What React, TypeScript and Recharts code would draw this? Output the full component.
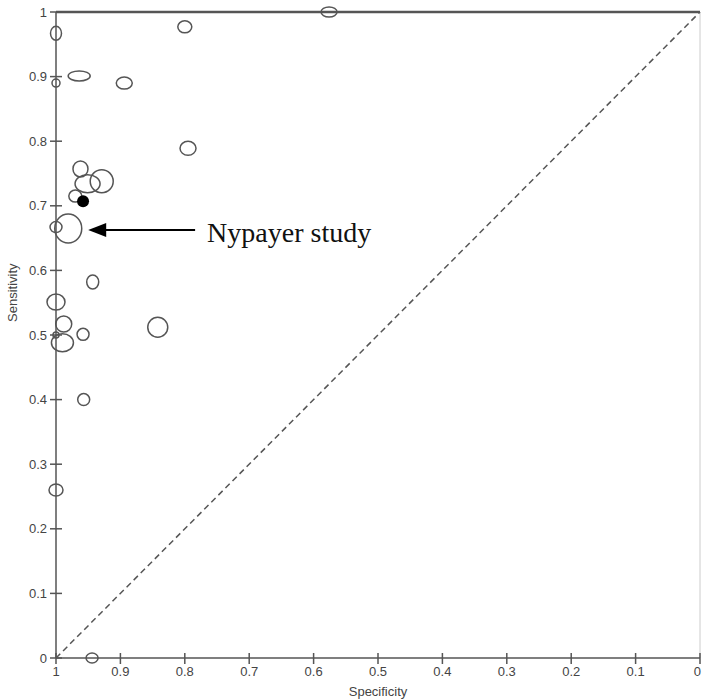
import { ScatterChart, Scatter, XAxis, YAxis, ReferenceLine } from 'recharts';

// 各研究的特异度 / 灵敏度 (椭圆中心)
const specificity = [1, 1, 0.964, 0.894, 0.8, 0.576, 0.795, 0.962, 0.951, 0.929, 0.97, 0.981, 1, 0.943, 1, 0.988, 1, 0.99, 0.958, 0.842, 0.957, 1, 0.944];
const sensitivity = [0.967, 0.89, 0.901, 0.89, 0.977, 1, 0.789, 0.757, 0.734, 0.738, 0.715, 0.665, 0.667, 0.582, 0.551, 0.517, 0.5, 0.488, 0.501, 0.512, 0.4, 0.26, 0];
// 椭圆宽 / 高权重
const specWeight = [5.5, 4, 11, 8, 7, 8, 8, 7.5, 12.5, 11.5, 6.5, 13.5, 6, 6, 9, 8, 3, 11, 6, 10, 6, 7, 6];
const sensWeight = [7, 4, 5, 6, 6, 5, 7, 8, 9, 11.5, 6, 14.5, 5.5, 7, 8, 8, 3, 9, 6, 10, 6, 6, 5];

// Nypayer 研究 (实心点)
const highlightSpec = [0.958];
const highlightSens = [0.707];
const annotationText = 'Nypayer study';
const arrowFrom = { x: 0.784, y: 0.6625 };
const arrowTo = { x: 0.95, y: 0.6625 };

const tickValues = [0, 0.1, 0.2, 0.3, 0.4, 0.5, 0.6, 0.7, 0.8, 0.9, 1];

const studies = specificity.map((s, i) => ({ spec: s, sens: sensitivity[i], rx: specWeight[i], ry: sensWeight[i] }));
const highlight = highlightSpec.map((s, i) => ({ spec: s, sens: highlightSens[i] }));

const AXIS = '#555';
const FONT = '"Liberation Sans", Arial, sans-serif';

const fmt = (v: number) => String(Math.round(v * 10) / 10);

function XTick(props: any) {
  const { x, y, payload } = props;
  // 最右端的 0 靠右对齐, 避免被裁切
  const atEdge = payload.value === 0;
  return (
    <g>
      <line x1={x} x2={x} y1={y - 5} y2={y + 6} stroke={AXIS} strokeWidth={1.5} />
      <text
        x={atEdge ? x + 1 : x}
        y={y + 18}
        textAnchor={atEdge ? 'end' : 'middle'}
        fontSize={13}
        fontFamily={FONT}
        fill="#444"
      >
        {fmt(payload.value)}
      </text>
    </g>
  );
}

function YTick(props: any) {
  const { x, y, payload } = props;
  return (
    <g>
      <line x1={x - 6} x2={x + 6} y1={y} y2={y} stroke={AXIS} strokeWidth={1.5} />
      <text x={x - 9} y={y + 4.5} textAnchor="end" fontSize={13} fontFamily={FONT} fill="#444">
        {fmt(payload.value)}
      </text>
    </g>
  );
}

function Arrow(props: any) {
  const { x1, y1, x2 } = props;
  return (
    <g>
      <line x1={x1} y1={y1} x2={x2 + 14} y2={y1} stroke="#000" strokeWidth={2} />
      <polygon points={`${x2},${y1} ${x2 + 18},${y1 - 7} ${x2 + 18},${y1 + 7}`} fill="#000" />
      <text x={x1 + 12} y={y1 + 12} fontSize={28} fontFamily='"Liberation Serif", "Times New Roman", serif' fill="#111">
        {annotationText}
      </text>
    </g>
  );
}

export default function App() {
  return (
    <div style={{ position: 'absolute', left: 0, top: 0, background: '#fff' }}>
      <ScatterChart width={702} height={700} margin={{ top: 12, right: 2, bottom: 0, left: 0 }}>
        <XAxis
          type="number"
          dataKey="spec"
          domain={[0, 1]}
          reversed
          ticks={tickValues}
          interval={0}
          height={42}
          tickSize={0}
          tickMargin={0}
          tick={<XTick />}
          axisLine={{ stroke: AXIS, strokeWidth: 1.5 }}
          label={{ value: 'Specificity', position: 'insideBottom', offset: 4, fontSize: 13, fontFamily: FONT, fill: '#444' }}
        />
        <YAxis
          type="number"
          dataKey="sens"
          domain={[0, 1]}
          ticks={tickValues}
          interval={0}
          width={56}
          tickSize={0}
          tickMargin={0}
          tick={<YTick />}
          axisLine={{ stroke: AXIS, strokeWidth: 1.5 }}
          label={{ value: 'Sensitivity', angle: -90, position: 'insideLeft', offset: 12, dy: -13, fontSize: 13, fontFamily: FONT, fill: '#444' }}
        />
        <ReferenceLine y={1} stroke={AXIS} strokeWidth={2.5} />
        <ReferenceLine x={0} stroke="#ccc" strokeWidth={1} />
        <ReferenceLine
          segment={[{ x: 1, y: 0 }, { x: 0, y: 1 }]}
          stroke={AXIS}
          strokeWidth={1.5}
          strokeDasharray="6 4"
        />
        <Scatter
          data={studies}
          isAnimationActive={false}
          shape={(p: any) => (
            <ellipse cx={p.cx} cy={p.cy} rx={p.payload.rx} ry={p.payload.ry} fill="none" stroke={AXIS} strokeWidth={1.5} />
          )}
        />
        <Scatter
          data={highlight}
          isAnimationActive={false}
          shape={(p: any) => <circle cx={p.cx} cy={p.cy} r={6} fill="#000" />}
        />
        <ReferenceLine segment={[arrowFrom, arrowTo]} shape={<Arrow />} />
      </ScatterChart>
    </div>
  );
}
